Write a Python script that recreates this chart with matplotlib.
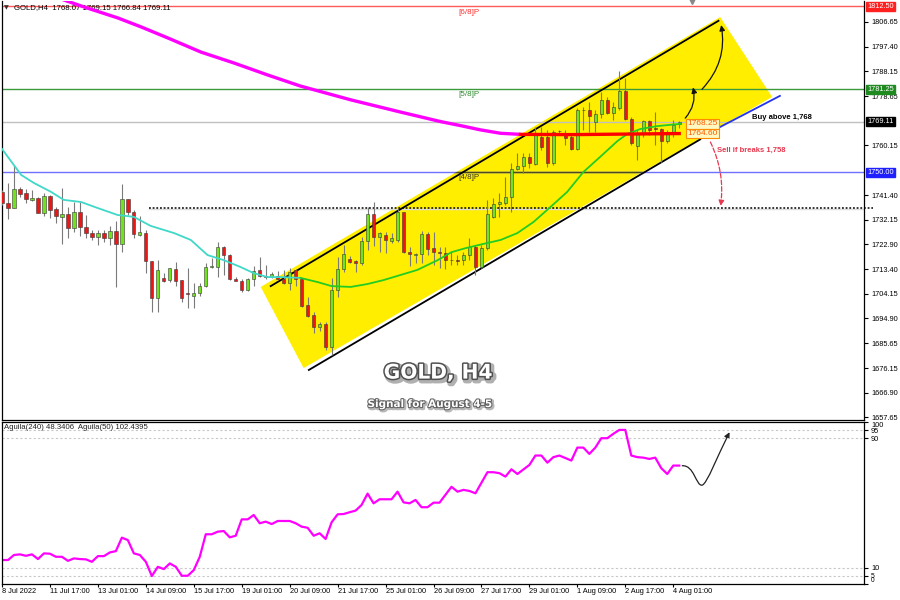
import numpy as np
import matplotlib
matplotlib.use('Agg')
import matplotlib.pyplot as plt
import matplotlib.patheffects as pe
from matplotlib.patches import Polygon, FancyArrowPatch
from matplotlib.path import Path
from matplotlib.transforms import blended_transform_factory

plt.rcParams['font.family'] = ['Liberation Sans', 'DejaVu Sans']

# Velas H4 de GOLD
opens = [1742.7, 1738.3, 1736.4, 1743.7, 1742.1, 1739.6, 1740.4, 1734.7, 1741.1, 1736.1,
         1733.3, 1734.3, 1729.1, 1734.9, 1729.5, 1727.0, 1725.5, 1727.2, 1725.1, 1728.0,
         1723.0, 1739.8, 1734.9, 1726.4, 1727.0, 1716.6, 1702.7, 1710.0, 1709.4, 1713.5,
         1709.4, 1704.5, 1703.5, 1704.6, 1707.1, 1714.2, 1714.2, 1721.9, 1718.8, 1709.7,
         1709.1, 1705.6, 1709.8, 1713.2, 1710.8, 1710.6, 1711.0, 1709.8, 1708.2, 1713.2,
         1709.7, 1699.9, 1696.2, 1691.8, 1692.8, 1684.3, 1705.6, 1713.4, 1717.3, 1716.6,
         1715.7, 1724.1, 1734.3, 1725.7, 1726.4, 1724.2, 1724.5, 1734.9, 1720.1, 1718.8,
         1719.2, 1726.7, 1721.4, 1719.8, 1719.7, 1716.9, 1716.8, 1716.9, 1718.8, 1721.9,
         1714.4, 1721.4, 1733.3, 1737.9, 1738.3, 1740.8, 1751.1, 1752.4, 1755.6, 1753.0,
         1763.4, 1763.4, 1753.4, 1765.6, 1764.9, 1763.2, 1758.8, 1773.5, 1773.5, 1769.1,
         1771.9, 1777.2, 1772.2, 1774.3, 1780.6, 1770.1, 1760.0, 1764.4, 1769.3, 1766.7,
         1766.3, 1761.8, 1764.7, 1768.07]
highs = [1743.3, 1745.9, 1752.8, 1744.3, 1743.6, 1743.3, 1740.8, 1742.3, 1741.4, 1737.1,
         1744.0, 1736.8, 1738.7, 1738.7, 1733.9, 1728.2, 1728.2, 1728.2, 1729.7, 1731.7,
         1745.5, 1739.8, 1735.8, 1733.5, 1728.2, 1716.6, 1717.0, 1712.0, 1714.0, 1716.3,
         1709.4, 1714.0, 1708.2, 1708.2, 1715.7, 1717.7, 1723.6, 1722.3, 1719.2, 1710.6,
         1709.7, 1710.1, 1714.7, 1718.2, 1715.1, 1712.5, 1712.9, 1713.2, 1713.8, 1713.4,
         1710.1, 1702.9, 1697.5, 1693.7, 1693.7, 1710.1, 1717.9, 1722.6, 1718.4, 1717.0,
         1725.7, 1736.8, 1738.9, 1727.6, 1727.6, 1727.0, 1736.0, 1735.1, 1721.9, 1719.7,
         1728.0, 1727.6, 1727.6, 1721.9, 1721.9, 1720.1, 1718.8, 1720.1, 1725.1, 1722.6,
         1722.6, 1739.6, 1740.2, 1742.1, 1748.4, 1753.4, 1757.2, 1757.2, 1757.2, 1767.2,
         1767.2, 1765.9, 1765.9, 1765.9, 1765.9, 1764.1, 1774.1, 1774.7, 1776.6, 1773.5,
         1780.4, 1778.5, 1776.6, 1788.2, 1785.4, 1771.0, 1765.9, 1769.7, 1769.7, 1772.7,
         1766.6, 1765.9, 1769.7, 1769.15]
lows = [1737.7, 1732.3, 1736.4, 1740.8, 1738.3, 1739.3, 1734.5, 1733.5, 1732.7, 1730.8,
        1723.0, 1725.1, 1727.6, 1725.9, 1725.1, 1724.5, 1722.5, 1723.8, 1722.6, 1706.7,
        1720.1, 1733.9, 1725.1, 1726.0, 1712.1, 1697.5, 1697.5, 1708.8, 1708.8, 1707.1,
        1701.2, 1698.9, 1698.7, 1703.4, 1706.6, 1713.8, 1710.6, 1711.3, 1709.4, 1709.0,
        1705.0, 1705.4, 1707.1, 1710.4, 1709.7, 1710.1, 1709.4, 1707.9, 1705.6, 1707.1,
        1699.3, 1695.3, 1689.3, 1690.3, 1683.0, 1681.1, 1703.1, 1712.5, 1715.9, 1712.5,
        1715.1, 1720.7, 1722.2, 1720.1, 1719.5, 1723.2, 1723.8, 1719.5, 1714.7, 1715.7,
        1715.7, 1718.8, 1715.1, 1713.8, 1713.4, 1715.1, 1715.1, 1715.1, 1716.9, 1711.3,
        1713.9, 1720.7, 1732.7, 1733.3, 1737.7, 1735.1, 1750.9, 1749.6, 1751.5, 1752.7,
        1758.4, 1752.1, 1752.7, 1764.1, 1760.3, 1758.4, 1758.4, 1765.9, 1765.3, 1765.3,
        1770.4, 1771.9, 1769.7, 1773.5, 1769.7, 1760.3, 1754.6, 1763.4, 1764.1, 1760.3,
        1754.0, 1760.9, 1763.4, 1766.84]
closes = [1738.3, 1736.4, 1743.6, 1741.7, 1739.8, 1740.2, 1734.7, 1741.1, 1735.8, 1733.5,
          1734.3, 1729.1, 1734.9, 1729.5, 1727.0, 1725.7, 1727.2, 1725.1, 1728.0, 1723.0,
          1739.8, 1734.9, 1726.7, 1727.6, 1716.6, 1702.7, 1713.2, 1709.1, 1713.8, 1709.1,
          1702.5, 1704.1, 1704.6, 1707.1, 1714.2, 1714.3, 1721.7, 1718.8, 1709.7, 1709.0,
          1705.6, 1709.7, 1712.9, 1710.9, 1710.5, 1711.6, 1709.8, 1708.2, 1712.5, 1709.7,
          1699.6, 1695.8, 1691.8, 1692.8, 1684.3, 1705.6, 1713.4, 1719.2, 1716.3, 1715.7,
          1724.1, 1734.3, 1725.7, 1727.0, 1724.5, 1725.1, 1734.9, 1719.8, 1719.2, 1719.2,
          1726.7, 1721.1, 1719.8, 1719.7, 1716.9, 1716.8, 1716.7, 1718.8, 1721.9, 1714.4,
          1721.4, 1734.2, 1737.9, 1738.7, 1740.8, 1751.1, 1752.4, 1755.6, 1753.4, 1764.1,
          1759.6, 1753.4, 1765.1, 1765.4, 1763.0, 1758.8, 1773.5, 1773.3, 1771.3, 1771.9,
          1777.2, 1772.2, 1774.7, 1780.6, 1770.1, 1760.9, 1764.7, 1769.3, 1765.9, 1766.5,
          1761.8, 1764.9, 1767.8, 1769.11]

# Medias moviles (puntos leidos)
cyan_idx = [0, 3.2, 5.3, 8.2, 10.3, 13.2, 16, 19.3, 22, 24.8, 28.7, 31.5, 34.3, 37, 39.8, 42, 44.3, 46.5, 49.8]
cyan_val = [1758.8, 1749.0, 1746.0, 1742.6, 1739.6, 1738.8, 1736.5, 1733.9, 1733.2, 1729.8,
            1727.1, 1724.5, 1718.8, 1716.9, 1714.3, 1712.0, 1710.5, 1710.5, 1710.2]
green_idx = [49.8, 52.7, 55, 58.2, 61, 63.7, 66.5, 69.3, 72.7, 75, 77.5, 80.3, 83.2, 86, 88.7,
             91.5, 94.3, 97, 99.8, 102.7, 104.3, 106.5, 109.3, 112, 113.2]
green_val = [1710.2, 1708.6, 1707.1, 1706.8, 1707.9, 1709.4, 1711.3, 1713.2, 1716.9, 1719.9,
             1721.5, 1723.0, 1724.5, 1727.1, 1731.3, 1736.9, 1742.6, 1750.1, 1755.8, 1761.8,
             1764.4, 1766.3, 1767.4, 1768.0, 1768.25]
mag_idx = [9.0, 13.7, 19.3, 23.2, 27.7, 33.2, 38.7, 44.3, 49.8, 58.2, 66.5, 73.2, 76.5, 79.8, 83.2, 86.5]
mag_val = [1816.0, 1812.3, 1808.2, 1804.8, 1800.6, 1795.3, 1791.2, 1786.7, 1782.5, 1777.3,
           1772.7, 1769.1, 1767.6, 1766.0, 1764.7, 1764.3]
red_idx = [86.5, 95, 104, 113]
red_val = [1764.3, 1764.2, 1764.4, 1764.6]

# Oscilador Aguila
osc_idx = [0, 1, 2, 3, 4, 5, 6, 7, 8, 9, 10, 11, 12, 13, 14, 15, 16, 17, 18, 19, 20, 21, 22, 23,
           24, 25, 26, 27, 28, 29, 30, 31, 32, 33, 34, 35, 36, 37, 38, 39, 40, 41, 42, 43, 44,
           45, 46, 48, 49, 50, 51, 52, 53, 54, 55, 56, 57, 58, 59, 60, 61, 62, 63, 65, 66, 67,
           68, 69, 70, 71, 72, 73, 75, 76, 77, 78, 79, 81, 82, 83, 84, 85, 86, 88, 89, 90, 91,
           92, 93, 95, 96, 97, 98, 99, 100, 101, 102, 103, 104, 105, 106, 107, 108, 109, 110,
           111, 112, 113]
osc_val = [14.8, 14.8, 17.9, 18.3, 17.4, 18.3, 15.4, 18.9, 18.7, 16.8, 16.8, 14.3, 15.8, 15.4,
           15.2, 13.7, 17.2, 17.2, 19.5, 20.3, 28.6, 27.1, 18.9, 17.9, 13.7, 4.9, 10.6, 9.2,
           12.7, 10.6, 5.1, 5.1, 8.6, 16.8, 30.7, 30.7, 32.3, 32.7, 28.8, 29.8, 39.9, 39.9,
           42.6, 37.5, 38.5, 37.0, 38.9, 38.9, 37.5, 35.4, 34.7, 29.8, 31.3, 27.8, 38.1, 43.0,
           43.2, 44.3, 45.3, 48.8, 55.8, 49.8, 52.3, 52.3, 57.0, 50.4, 49.8, 51.9, 47.4, 47.4,
           50.2, 50.2, 60.0, 57.0, 58.1, 57.4, 56.0, 69.0, 69.0, 68.4, 66.3, 70.8, 67.9, 73.5,
           79.3, 79.3, 74.9, 78.3, 79.3, 76.2, 84.2, 84.2, 80.3, 84.2, 90.0, 90.0, 92.7, 95.1,
           95.1, 79.3, 78.3, 78.0, 77.2, 78.0, 71.5, 67.9, 73.1, 73.1]

price_ticks = [1806.65, 1797.40, 1788.15, 1778.65, 1760.15, 1741.40, 1732.15, 1722.90,
               1713.40, 1704.15, 1694.90, 1685.65, 1676.15, 1666.90, 1657.65]
date_pos = list(range(0, 113, 8))
date_labels = ['8 Jul 2022', '11 Jul 17:00', '13 Jul 01:00', '14 Jul 09:00', '15 Jul 17:00',
               '19 Jul 01:00', '20 Jul 09:00', '21 Jul 17:00', '25 Jul 01:00', '26 Jul 09:00',
               '27 Jul 17:00', '29 Jul 01:00', '1 Aug 09:00', '2 Aug 17:00', '4 Aug 01:00']
osc_ticks = [0, 5, 10, 90, 95, 100]

o = np.array(opens); h = np.array(highs); l = np.array(lows); c = np.array(closes)
idx = np.arange(len(o))
FS = 5.3

fig = plt.figure(figsize=(9, 6), dpi=100)
ax = fig.add_axes([2/900, 180/600, 862/900, 419/600])
ax2 = fig.add_axes([2/900, 16/600, 862/900, 162/600], sharex=ax)
ax.set_xlim(0.167, 143.83)
ax.set_ylim(1656.64, 1814.56)
ax2.set_ylim(0, 100)

# canal amarillo
canal = Polygon([(43.17, 1706.8), (119.83, 1808.5), (128.5, 1778.4), (50.33, 1676.2)],
                closed=True, fc='#ffee00', ec='none', zorder=1)
ax.add_patch(canal)
ax.plot([44.83, 119.55], [1707.1, 1807.1], color='black', lw=1.3, zorder=2.5)
ax.plot([51.2, 116.5], [1675.5, 1762.4], color='black', lw=1.3, zorder=2.5)
ax.plot([119.5, 129.8], [1766.7, 1778.8], color='#2233ee', lw=1.3, zorder=2.5)

# lineas horizontales
ax.axhline(1812.5, color='#ff5a5a', lw=1, zorder=2)
ax.axhline(1781.25, color='#3c9a3c', lw=1, zorder=2)
ax.axhline(1769.11, color='#c0c0c0', lw=1, zorder=2)
ax.axhline(1750.0, color='#7070ff', lw=1, zorder=2)
dark = ax.axhline(1750.0, color='#4a4a20', lw=1, zorder=2.1)
dark.set_clip_path(canal)
ax.plot([24.5, 145.3], [1736.7, 1736.7], color='black', lw=1.1, ls=(0, (1.2, 1.2)), zorder=2.2, clip_on=False)
ax.plot([24.5, 143.8], [1736.3, 1736.3], color='#dcdcdc', lw=1, zorder=2.1)

# velas
up = c >= o
ax.vlines(idx, l, h, color='#7a7a7a', lw=0.8, zorder=3)
ax.bar(idx, np.maximum(np.abs(c - o), 0.3), bottom=np.minimum(o, c), width=0.55,
       color=np.where(up, '#72e21e', '#ee1515'), edgecolor='#3a3a3a', lw=0.4, zorder=4)

# medias
ax.plot(cyan_idx, cyan_val, color='#40d8c8', lw=1.3, zorder=5)
ax.plot(green_idx, green_val, color='#22cc22', lw=1.3, zorder=5)
ax.plot(mag_idx, mag_val, color='#ff00ff', lw=2.4, zorder=5, solid_capstyle='butt')
ax.plot(red_idx, red_val, color='#ff0000', lw=2.4, zorder=5)

# etiquetas de niveles
ax.text(76.2, 1811.6, '[6/8]P', color='#ff3030', fontsize=5.8, va='top', zorder=6)
ax.text(76.2, 1780.5, '[5/8]P', color='#2e8b2e', fontsize=5.8, va='top', zorder=6)
ax.text(76.2, 1749.3, '[4/8]P', color='#333333', fontsize=5.8, va='top', zorder=6)

# cajas naranja
for yv, txt in [(1768.25, '1768.25'), (1764.60, '1764.60')]:
    ax.text(116.9, yv, txt, color='#ff5a00', fontsize=6, ha='center', va='center', zorder=7,
            bbox=dict(boxstyle='square,pad=0.15', fc='#fff8c0', ec='#ff8c00', lw=0.8))

# flechas
ax.add_patch(FancyArrowPatch((114.0, 1770.4), (115.3, 1782.0), connectionstyle='arc3,rad=0.25',
                             arrowstyle='-|>', mutation_scale=8, lw=0.9, color='#111111',
                             shrinkA=0, shrinkB=0, zorder=8))
ax.add_patch(FancyArrowPatch((116.8, 1781.3), (120.0, 1805.5), connectionstyle='arc3,rad=0.25',
                             arrowstyle='-|>', mutation_scale=8, lw=0.9, color='#111111',
                             shrinkA=0, shrinkB=0, zorder=8))
ax.add_patch(FancyArrowPatch((118.2, 1761.4), (119.9, 1737.3), connectionstyle='arc3,rad=-0.15',
                             arrowstyle='-|>', mutation_scale=8, lw=0.9, color='#e8384f', ls='--',
                             shrinkA=0, shrinkB=0, zorder=8))
ax.text(125.2, 1770.7, 'Buy above 1,768', fontsize=5.5, fontweight='bold', color='black',
        va='center', zorder=8)
ax.text(119.3, 1758.4, 'Sell if breaks 1,758', fontsize=5.5, fontweight='bold', color='#e8384f',
        va='center', zorder=8)

# titulos
ax.text(0.5058, 0.112, 'GOLD, H4', transform=ax.transAxes, ha='center', va='center',
        fontsize=14.5, fontweight='bold', color='white', family='DejaVu Sans', zorder=9,
        path_effects=[pe.Stroke(linewidth=4, foreground='#b0b0b0', offset=(1.5, -1.5)),
                      pe.Stroke(linewidth=2.2, foreground='#505050'), pe.Normal()])
ax.text(0.4965, 0.038, 'Signal for August 4-5', transform=ax.transAxes, ha='center', va='center',
        fontsize=7.5, fontweight='bold', color='white', family='DejaVu Sans', zorder=9,
        path_effects=[pe.Stroke(linewidth=2.5, foreground='#b8b8b8', offset=(1, -1)),
                      pe.Stroke(linewidth=1.5, foreground='#606060'), pe.Normal()])
ax.text(0.002, 0.985, '\u25bc', transform=ax.transAxes, fontsize=4.5, va='center',
        family='DejaVu Sans', color='#333333')
ax.text(0.014, 0.985, 'GOLD,H4  1768.07 1769.15 1766.84 1769.11', transform=ax.transAxes,
        fontsize=5.6, va='center', color='black')

# eje de precios
ax.yaxis.tick_right()
ax.set_yticks(price_ticks)
ax.set_yticklabels([f'{p:.2f}' for p in price_ticks])
ax.tick_params(axis='y', length=3, width=0.8, pad=2, labelsize=FS, direction='out')
ax.tick_params(axis='x', bottom=False, labelbottom=False)
bt = blended_transform_factory(ax.transAxes, ax.transData)
for yv, fc in [(1812.5, '#ff2020'), (1781.25, '#1f8a1f'), (1769.11, '#000000'), (1750.0, '#2020ff')]:
    ax.text(1.004, yv, f'{yv:.2f}', transform=bt, fontsize=FS, color='white', va='center',
            ha='left', bbox=dict(boxstyle='square,pad=0.15', fc=fc, ec=fc), clip_on=False)
ax.plot([0.8], [1.0], marker='v', color='#888888', ms=4, transform=ax.transAxes, clip_on=False)
ax.spines['top'].set_visible(False)
for s in ax.spines.values():
    s.set_linewidth(0.9)

# panel inferior
for lv in [5, 10, 90, 95]:
    ax2.axhline(lv, color='#c8c8c8', lw=0.8, ls=(0, (2, 2)))
ax2.plot(osc_idx, osc_val, color='#ff00ff', lw=1.6)
verts = [(113.5, 73.0), (115.5, 73.5), (115.8, 60.5), (116.8, 61.0),
         (117.6, 61.4), (119.5, 80.0), (121.4, 93.7)]
codes = [Path.MOVETO] + [Path.CURVE4] * 6
ax2.add_patch(FancyArrowPatch(path=Path(verts, codes), arrowstyle='-|>', mutation_scale=8,
                              lw=0.9, color='#222222'))
ax2.text(0.002, 0.963, 'Aguila(240) 48.3406  Aguila(50) 102.4395', transform=ax2.transAxes,
         fontsize=5.6, va='center', color='#222222')
ax2.yaxis.tick_right()
ax2.set_yticks(osc_ticks)
ax2.set_yticklabels([str(t) for t in osc_ticks])
ax2.tick_params(axis='y', length=3, width=0.8, pad=2, labelsize=FS)
ylabs = ax2.get_yticklabels()
ylabs[0].set_va('bottom')
ylabs[0].set_fontsize(4.8)
ylabs[1].set_fontsize(4.8)
ylabs[-1].set_va('top')
ax2.set_xticks(date_pos)
ax2.set_xticklabels(date_labels)
ax2.tick_params(axis='x', length=2, width=0.8, pad=1, labelsize=FS)
for t in ax2.get_xticklabels():
    t.set_ha('left')
for s in ax2.spines.values():
    s.set_linewidth(0.9)

fig.savefig('out.png', dpi=100)
